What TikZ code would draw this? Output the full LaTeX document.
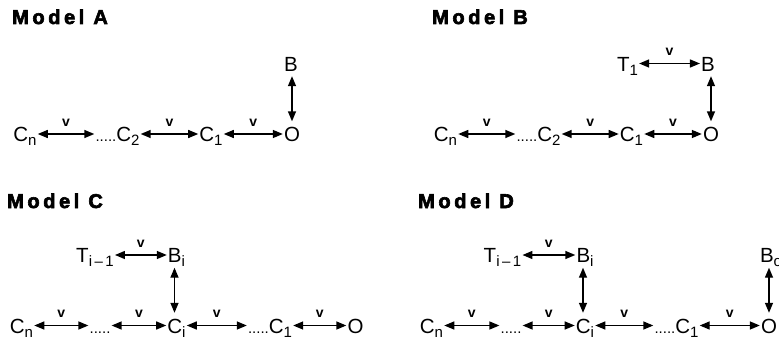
\documentclass[tikz,border=0pt]{standalone}
\usepackage{fontspec}
\setmainfont{Liberation Sans}
\newfontfamily\titlefont{Liberation Sans Bold}[LetterSpace=18,FakeBold=3]
\usetikzlibrary{arrows.meta}

% lowered subscript and the short dotted run
\newcommand\sbs[1]{\raisebox{-4pt}{\fontsize{15}{15}\selectfont #1}}
\newcommand\dotrun{{\fontsize{15}{15}\selectfont .....}}

\tikzset{
  lab/.style={font=\fontsize{20.5}{22}\selectfont, inner sep=1pt,
              text height=15pt, text depth=0pt, anchor=base},
  link/.style={{Triangle[length=10pt,width=8pt]}-{Triangle[length=10pt,width=8pt]},
               line width=1.4pt},
  vert/.style={link, shorten <=4pt, shorten >=4pt},
  vl/.style={font=\bfseries\fontsize{14}{14}\selectfont, inner sep=0pt,
             midway, above=7pt},
  ttl/.style={font=\titlefont\fontsize{20}{22}\selectfont,
              anchor=base west, inner sep=0pt}
}

\begin{document}
\begin{tikzpicture}[x=1pt,y=-1pt]
\useasboundingbox (0,0) rectangle (779,345);

% ---------------- Model A ----------------
\node[ttl] (tA) at (12,24) {Model\hspace{9pt}A};
\node[lab] (aCn) at (25,141.5)   {C\sbs{n}};
\node[lab] (aC2) at (117.5,141.5) {\dotrun C\sbs{2}};
\node[lab] (aC1) at (211,141.5)  {C\sbs{1}};
\node[lab] (aO)  at (292,141.5)  {O};
\node[lab] (aB)  at (291,71)     {B};
\draw[link] (aCn) -- node[vl]{v} (aC2);
\draw[link] (aC2) -- node[vl]{v} (aC1);
\draw[link] (aC1) -- node[vl]{v} (aO);
\draw[vert] (aB.south -| aO) -- (aO.north);

% ---------------- Model B ----------------
\node[ttl] (tB) at (432,24) {Model\hspace{9pt}B};
\node[lab] (bCn) at (445.5,141.5) {C\sbs{n}};
\node[lab] (bC2) at (538.5,141.5) {\dotrun C\sbs{2}};
\node[lab] (bC1) at (631.5,141.5) {C\sbs{1}};
\node[lab] (bO)  at (711,141.5)   {O};
\node[lab] (bB)  at (708,71)      {B};
\node[lab] (bT1) at (627.5,71)    {T\sbs{1}};
\draw[link] (bCn) -- node[vl]{v} (bC2);
\draw[link] (bC2) -- node[vl]{v} (bC1);
\draw[link] (bC1) -- node[vl]{v} (bO);
\draw[link] (bT1) -- node[vl]{v} (bB);
\draw[vert] (bB.south -| bO) -- (bO.north);

% ---------------- Model C ----------------
\node[ttl] (tC) at (7,208) {Model\hspace{9pt}C};
\node[lab] (cCn)  at (21.5,333) {C\sbs{n}};
\node[lab] (cDt)  at (100,333)  {\dotrun};
\node[lab] (cCi)  at (176.5,333) {C\sbs{i}};
\node[lab] (cC1)  at (270,333)  {\dotrun C\sbs{1}};
\node[lab] (cO)   at (355.5,333) {O};
\node[lab] (cT)   at (95,262.5) {T\sbs{i\,--\,1}};
\node[lab] (cBi)  at (176.5,262.5) {B\sbs{i}};
\draw[link] (cCn) -- node[vl]{v} (cDt);
\draw[link] (cDt) -- node[vl]{v} (cCi);
\draw[link] (cCi) -- node[vl]{v} (cC1);
\draw[link] (cC1) -- node[vl]{v} (cO);
\draw[link] (cT)  -- node[vl]{v} (cBi);
\draw[vert] ([xshift=-2pt]cBi.south) -- ([xshift=-2pt]cCi.north);

% ---------------- Model D ----------------
\node[ttl] (tD) at (418,208) {Model\hspace{9pt}D};
\node[lab] (dCn)  at (431.5,333) {C\sbs{n}};
\node[lab] (dDt)  at (511,333)   {\dotrun};
\node[lab] (dCi)  at (585,333)   {C\sbs{i}};
\node[lab] (dC1)  at (676.5,333) {\dotrun C\sbs{1}};
\node[lab] (dO)   at (769,333)   {O};
\node[lab] (dT)   at (502.5,262.5) {T\sbs{i\,--\,1}};
\node[lab] (dBi)  at (585,262.5) {B\sbs{i}};
\node[lab] (dBo)  at (771,262.5) {B\sbs{o}};
\draw[link] (dCn) -- node[vl]{v} (dDt);
\draw[link] (dDt) -- node[vl]{v} (dCi);
\draw[link] (dCi) -- node[vl]{v} (dC1);
\draw[link] (dC1) -- node[vl]{v} (dO);
\draw[link] (dT)  -- node[vl]{v} (dBi);
\draw[vert] ([xshift=-2pt]dBi.south) -- ([xshift=-2pt]dCi.north);
\draw[vert] (dBo.south -| dO) -- (dO.north);
\end{tikzpicture}
\end{document}
